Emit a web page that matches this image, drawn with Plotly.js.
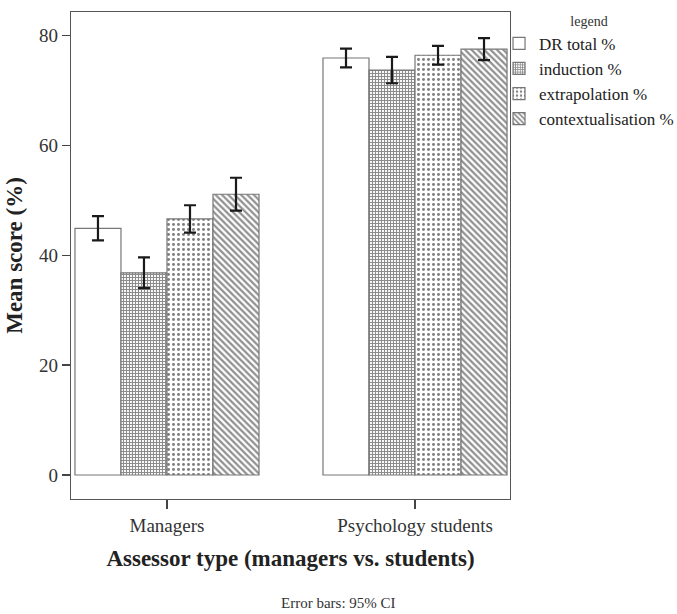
<!DOCTYPE html>
<html>
<head>
<meta charset="utf-8">
<script src="https://cdn.plot.ly/plotly-3.0.1.min.js"></script>
<style>html,body{margin:0;padding:0;background:#fff;}</style>
</head>
<body>
<div id="chart" style="width:677px;height:614px;"></div>
<script>
const categories = ["Managers", "Psychology students"];
const seriesNames = ["DR total %", "induction %", "extrapolation %", "contextualisation %"];
const drTotal = [44.9, 75.9];
const drTotalCI = [2.2, 1.7];
const induction = [36.8, 73.7];
const inductionCI = [2.8, 2.4];
const extrapolation = [46.6, 76.4];
const extrapolationCI = [2.5, 1.7];
const contextualisation = [51.1, 77.5];
const contextualisationCI = [3.0, 2.0];
const yTicks = [0, 20, 40, 60, 80];

const serif = "Liberation Serif";
const values = [drTotal, induction, extrapolation, contextualisation];
const cis = [drTotalCI, inductionCI, extrapolationCI, contextualisationCI];
const patterns = [
  {shape: "", fillmode: "overlay"},
  {shape: "+", size: 3, solidity: 0.6, fgcolor: "#1a1a1a", bgcolor: "#fff", fillmode: "overlay"},
  {shape: ".", size: 5, solidity: 0.28, fgcolor: "#000", bgcolor: "#fff", fillmode: "overlay"},
  {shape: "\\", size: 4.5, solidity: 0.5, fgcolor: "#222", bgcolor: "#fff", fillmode: "overlay"}
];

const traces = seriesNames.map((name, i) => ({
  type: "bar",
  name: name,
  x: categories,
  y: values[i],
  marker: {color: "#fff", line: {color: "#777", width: 1.2}, pattern: patterns[i]},
  error_y: {type: "data", array: cis[i], visible: true, color: "#1a1a1a", thickness: 2.2, width: 6}
}));

const layout = {
  width: 677, height: 614,
  margin: {l: 71, r: 167, t: 12, b: 115, autoexpand: false},
  paper_bgcolor: "#fff", plot_bgcolor: "#fff",
  barmode: "group", bargap: 0.258, bargroupgap: 0,
  font: {family: serif, color: "#333"},
  showlegend: true,
  legend: {
    x: 0.975, xanchor: "left", y: 1.009, yanchor: "top",
    font: {family: serif, size: 17, color: "#222"},
    title: {text: "legend", side: "top center", font: {family: serif, size: 14, color: "#333"}},
    itemwidth: 30, tracegroupgap: 0, bgcolor: "rgba(0,0,0,0)"
  },
  xaxis: {
    type: "category", range: [-0.387, 1.383],
    showline: true, linecolor: "#555", linewidth: 1.3, mirror: true,
    ticks: "outside", ticklen: 9, tickcolor: "#444", tickwidth: 1.3,
    tickfont: {family: serif, size: 19, color: "#333"},
    showgrid: false, zeroline: false,
    title: {text: "<b>Assessor type (managers vs. students)</b>", font: {family: serif, size: 23, color: "#222"}, standoff: 14}
  },
  yaxis: {
    range: [-4.37, 84.27],
    tickvals: yTicks, ticktext: yTicks.map(String),
    showline: true, linecolor: "#555", linewidth: 1.3, mirror: true,
    ticks: "outside", ticklen: 8, tickcolor: "#444", tickwidth: 1.3,
    tickfont: {family: serif, size: 19, color: "#333"},
    showgrid: false, zeroline: false,
    title: {text: "<b>Mean score (%)</b>", font: {family: serif, size: 23, color: "#222"}, standoff: 10}
  },
  annotations: [{
    text: "Error bars: 95% CI", xref: "paper", yref: "paper",
    x: (338 - 71) / 439, y: -(603 - 499) / 487, xanchor: "center", yanchor: "middle",
    showarrow: false, font: {family: serif, size: 15, color: "#333"}
  }]
};

Plotly.newPlot("chart", traces, layout, {displayModeBar: false, staticPlot: true});
</script>
</body>
</html>
